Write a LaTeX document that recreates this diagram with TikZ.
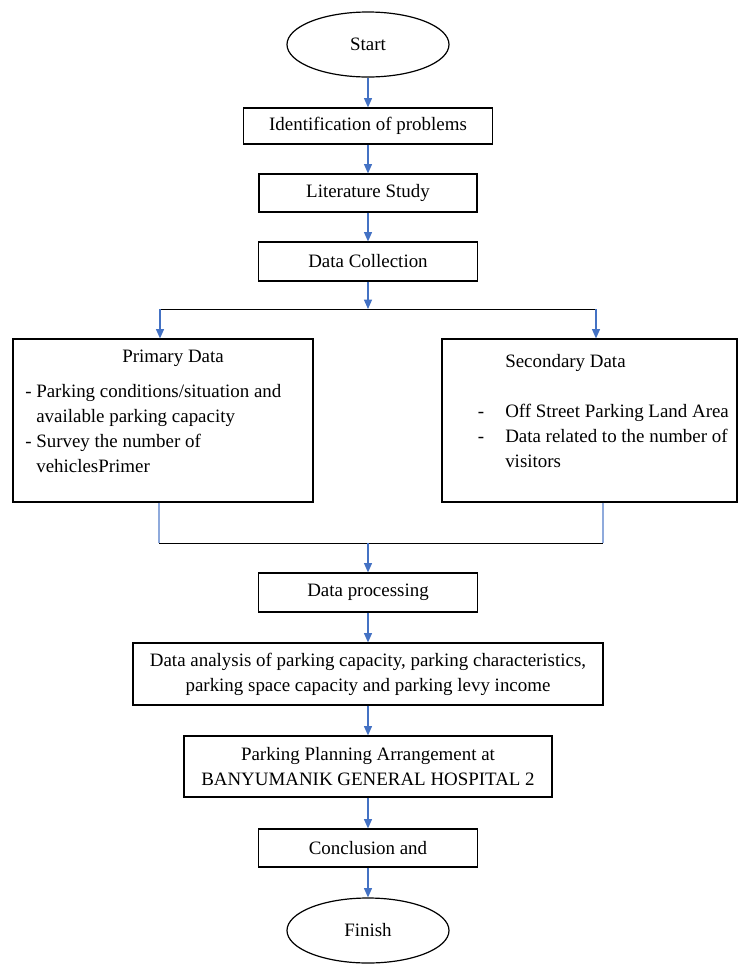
\documentclass[tikz,border=0pt]{standalone}
\usepackage{fontspec}
\setmainfont{Liberation Serif}
\usetikzlibrary{shapes.geometric,arrows.meta}
\definecolor{flowblue}{RGB}{68,114,196}
\definecolor{stubblue}{RGB}{143,170,220}
\tikzset{
    box/.style={draw, line width=0.9pt, inner sep=0pt, align=center},
    oval/.style={draw, ellipse, line width=0.9pt, inner sep=0pt,
        minimum width=121.5pt, minimum height=48.75pt},
    flow/.style={-{Triangle[length=7pt,width=6pt]}, flowblue, line width=0.9pt},
    stub/.style={stubblue, line width=0.8pt},
    rail/.style={black, line width=0.6pt},
    listtext/.style={anchor=north west, align=left, inner sep=0pt}
}
\begin{document}
\begin{tikzpicture}[x=0.75pt, y=-0.75pt, font=\fontsize{14.2}{18.75}\selectfont]
    \useasboundingbox (0,0) rectangle (738,965);

    % main column
    \node[oval] (start) at (368,44.5) {Start};
    \node[box, minimum width=186.75pt, minimum height=27pt] (ident) at (368,126) {Identification of problems};
    \node[box, minimum width=163.5pt, minimum height=28.5pt] (lit) at (368,193) {Literature Study};
    \node[box, minimum width=164.25pt, minimum height=29.25pt] (coll) at (368,261.5) {Data Collection};

    % the two kinds of data
    \node[box, minimum width=225pt, minimum height=122.25pt] (prim) at (163,420.5) {};
    \node (primtitle) at (173,358) {Primary Data};
    \node[listtext] (primlist) at (25,384) {- Parking conditions/situation and\\
        \hphantom{-\ }available parking capacity\\
        - Survey the number of\\
        \hphantom{-\ }vehiclesPrimer};

    \node[box, minimum width=221.25pt, minimum height=122.25pt] (sec) at (589.5,420.5) {};
    \node[listtext] (seclist) at (505,354) {Secondary Data\\[18.75pt]
        \llap{-\hspace{15.75pt}}Off Street Parking Land Area\\
        \llap{-\hspace{15.75pt}}Data related to the number of\\
        visitors};

    \node[box, minimum width=164.25pt, minimum height=29.25pt] (proc) at (368,592.5) {Data processing};
    \node[box, minimum width=352.5pt, minimum height=46.5pt] (anal) at (368,674) {Data analysis of parking capacity, parking characteristics,\\
        parking space capacity and parking levy income};
    \node[box, minimum width=276pt, minimum height=45.75pt] (plan) at (368,766.5) {Parking Planning Arrangement at\\
        BANYUMANIK GENERAL HOSPITAL 2};
    \node[box, minimum width=164.25pt, minimum height=28.5pt] (concl) at (368,848) {Conclusion and};
    \node[oval] (finish) at (368,930.5) {Finish};

    % split and join points
    \coordinate (split) at (368,309);
    \coordinate (splitL) at (160,309);
    \coordinate (splitR) at (596,309);
    \coordinate (joinL) at (159,543);
    \coordinate (joinR) at (603,543);
    \coordinate (join) at (368,543);

    \draw[flow] (start) -- (ident);
    \draw[flow] (ident) -- (lit);
    \draw[flow] (lit) -- (coll);
    \draw[flow] (coll) -- (split);
    \draw[rail] (splitL) -- (splitR);
    \draw[flow] (splitL) -- (splitL |- prim.north);
    \draw[flow] (splitR) -- (splitR |- sec.north);

    \draw[stub] (joinL |- prim.south) -- (joinL);
    \draw[stub] (joinR |- sec.south) -- (joinR);
    \draw[rail] (joinL) -- (joinR);
    \draw[flow] (join) -- (proc);

    \draw[flow] (proc) -- (anal);
    \draw[flow] (anal) -- (plan);
    \draw[flow] (plan) -- (concl);
    \draw[flow] (concl) -- (finish);
\end{tikzpicture}
\end{document}
